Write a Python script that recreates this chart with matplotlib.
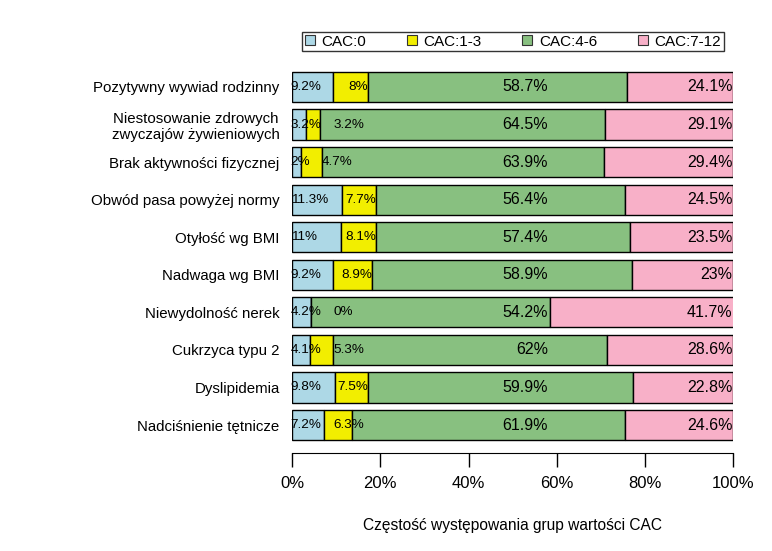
import numpy as np
import matplotlib.pyplot as plt
from matplotlib.patches import Patch

plt.rcParams['font.family'] = ['Liberation Sans', 'DejaVu Sans']

# categories top to bottom
categories = ['Pozytywny wywiad rodzinny',
              'Niestosowanie zdrowych\nzwyczajów żywieniowych',
              'Brak aktywności fizycznej',
              'Obwód pasa powyżej normy',
              'Otyłość wg BMI',
              'Nadwaga wg BMI',
              'Niewydolność nerek',
              'Cukrzyca typu 2',
              'Dyslipidemia',
              'Nadciśnienie tętnicze']
cac0 = [9.2, 3.2, 2, 11.3, 11, 9.2, 4.2, 4.1, 9.8, 7.2]
cac13 = [8, 3.2, 4.7, 7.7, 8.1, 8.9, 0, 5.3, 7.5, 6.3]
cac46 = [58.7, 64.5, 63.9, 56.4, 57.4, 58.9, 54.2, 62, 59.9, 61.9]
cac712 = [24.1, 29.1, 29.4, 24.5, 23.5, 23, 41.7, 28.6, 22.8, 24.6]

series = [cac0, cac13, cac46, cac712]
names = ['CAC:0', 'CAC:1-3', 'CAC:4-6', 'CAC:7-12']
colors = ['#ADD8E6', '#F2EE00', '#88C080', '#F8B0C8']

W, H = 772, 551
fig = plt.figure(figsize=(W / 100, H / 100), dpi=100)
top, bot = 66.3, 445.7
ax = fig.add_axes([292 / W, 1 - bot / H, (733.3 - 292) / W, (bot - top) / H])

n = len(categories)
ypos = np.arange(n)[::-1]
left = np.zeros(n)
for vals, col in zip(series, colors):
    ax.barh(ypos, vals, left=left, height=0.8, color=col, edgecolor='black', linewidth=1)
    left += np.array(vals)

for s in ['top', 'right', 'left']:
    ax.spines[s].set_visible(False)
ax.spines['bottom'].set_position(('outward', 5))

ax.set_xlim(0, 100)
ax.set_ylim(-0.55, n - 0.45)
ax.set_yticks(ypos)
ax.set_yticklabels(categories, fontsize=10.8, multialignment='center')
ax.tick_params(axis='y', length=0, pad=9)
ax.set_xticks(np.arange(0, 101, 20))
ax.set_xticklabels([f'{v}%' for v in range(0, 101, 20)])
ax.tick_params(axis='x', length=10, width=1, pad=7, labelsize=12)
ax.set_xlabel('Częstość występowania grup wartości CAC', fontsize=11.2, labelpad=19)

fig.canvas.draw()
renderer = fig.canvas.get_renderer()
inv = ax.transData.inverted()

def fmt(v):
    return f'{v:g}%'

def width_data(t):
    bb = t.get_window_extent(renderer)
    return inv.transform((bb.x1, 0))[0] - inv.transform((bb.x0, 0))[0]

for i, y in enumerate(ypos):
    # CAC:0 label at the left edge
    t0 = ax.text(-0.3, y, fmt(cac0[i]), ha='left', va='center', fontsize=9.7)
    end0 = -0.3 + width_data(t0)
    # CAC:1-3 label right-aligned at segment end, pushed right if it hits the first one
    t1 = ax.text(0, y, fmt(cac13[i]), ha='right', va='center', fontsize=9.7)
    xr = max(cac0[i] + cac13[i], end0 + 2.7 + width_data(t1))
    t1.set_x(xr)
    ax.text(58, y, fmt(cac46[i]), ha='right', va='center', fontsize=11.5)
    ax.text(99.8, y, fmt(cac712[i]), ha='right', va='center', fontsize=11.5)

handles = [Patch(facecolor=c, edgecolor='#333333', linewidth=0.8) for c in colors]
leg = fig.legend(handles, names, loc='center', bbox_to_anchor=(513 / W, 1 - 41.5 / H),
                 ncol=4, fontsize=11, frameon=True, fancybox=False, edgecolor='black',
                 handlelength=0.65, handleheight=0.65, handletextpad=0.45, columnspacing=2.65,
                 borderpad=0.15, borderaxespad=0)
leg.get_frame().set_linewidth(1)

fig.savefig('out.png', dpi=100)
